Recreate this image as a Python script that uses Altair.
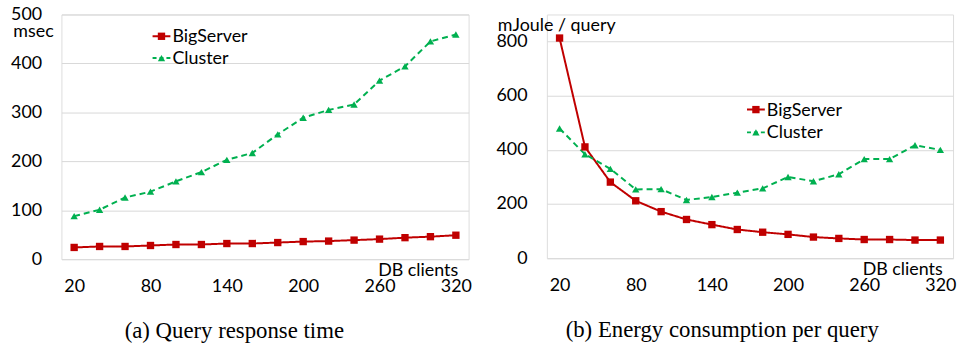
import altair as alt
import pandas as pd

clients = [20, 40, 60, 80, 100, 120, 140, 160, 180, 200, 220, 240, 260, 280, 300, 320]
series = ["BigServer", "Cluster"]
colors = ["#C00000", "#00B050"]
markers = ["square", "triangle-up"]
dashes = [[1, 0], [6, 4]]
legend_dashes = [[1, 0], [4, 3]]

rt_bigserver = [24, 26, 26, 28, 30, 30, 32, 32, 34, 36, 37, 39, 41, 44, 46, 49]
rt_cluster = [88, 101, 126, 138, 159, 178, 203, 217, 255, 289, 305, 316, 365, 394, 445, 459]

en_bigserver = [813, 411, 281, 212, 172, 143, 124, 106, 96, 88, 78, 73, 69, 69, 67, 67]
en_cluster = [479, 384, 330, 254, 255, 215, 226, 242, 258, 300, 284, 310, 366, 366, 417, 400]

x_ticks = [20, 80, 140, 200, 260, 320]
rt_ticks = [0, 100, 200, 300, 400, 500]
en_ticks = [0, 200, 400, 600, 800]

FONT = "Lato"
CAP_FONT = "Liberation Serif, Times New Roman, serif"


def make_df(big, clu):
    rows = []
    for c, v in zip(clients, big):
        rows.append({"clients": c, "value": v, "series": "BigServer"})
    for c, v in zip(clients, clu):
        rows.append({"clients": c, "value": v, "series": "Cluster"})
    return pd.DataFrame(rows)


legend_df = pd.DataFrame({"series": series})


def legend_layers(lx, ly, row_gap):
    layers = []
    for i, s in enumerate(series):
        base = alt.Chart(legend_df).transform_filter(alt.datum.series == s)
        yy = ly + i * row_gap
        layers.append(base.mark_rule(color=colors[i], strokeWidth=2,
                                     strokeDash=legend_dashes[i]).encode(
            x=alt.value(lx), x2=alt.value(lx + 18), y=alt.value(yy)))
        layers.append(base.mark_point(shape=markers[i], filled=True, opacity=1,
                                      color=colors[i], size=55).encode(
            x=alt.value(lx + 9), y=alt.value(yy)))
        layers.append(base.mark_text(align="left", baseline="middle", font=FONT,
                                     fontSize=18, color="#000000").encode(
            text="series:N", x=alt.value(lx + 20), y=alt.value(yy + 1)))
    return layers


def panel(df, ymax, yticks, ytitle, ytx, yty, w, h, lx, ly, row_gap, caption, cap_dx):
    x = alt.X(
        "clients:O",
        scale=alt.Scale(type="point", padding=0.5),
        axis=alt.Axis(
            values=x_ticks, title="DB clients", labelAngle=0,
            labelFont=FONT, labelFontSize=18, labelColor="#000000",
            labelPadding=19, ticks=False, tickSize=0, domain=False, grid=False,
            titleFont=FONT, titleFontSize=18, titleFontWeight="normal", titleColor="#000000",
            titleAlign="right", titleAnchor="end", titleBaseline="top",
            titleX=w - 11, titleY=2,
        ),
    )
    y = alt.Y(
        "value:Q",
        scale=alt.Scale(domain=[0, ymax], nice=False),
        axis=alt.Axis(
            values=yticks, title=ytitle, titleAngle=0,
            labelFont=FONT, labelFontSize=18, labelColor="#000000",
            labelPadding=20, ticks=False, tickSize=0, domain=False,
            grid=True, gridColor="#D9D9D9", gridWidth=1,
            titleFont=FONT, titleFontSize=18, titleFontWeight="normal", titleColor="#000000",
            titleAlign="left", titleBaseline="alphabetic",
            titleX=ytx, titleY=yty,
        ),
    )
    color = alt.Color("series:N", scale=alt.Scale(domain=series, range=colors), legend=None)
    lines = alt.Chart(df).mark_line(strokeWidth=2).encode(
        x=x, y=y, color=color,
        strokeDash=alt.StrokeDash("series:N", scale=alt.Scale(domain=series, range=dashes),
                                  legend=None),
    )
    pts = alt.Chart(df).mark_point(filled=True, opacity=1, size=55).encode(
        x=x, y=y, color=color,
        shape=alt.Shape("series:N", scale=alt.Scale(domain=series, range=markers),
                        legend=None),
    )
    return alt.layer(lines, pts, *legend_layers(lx, ly, row_gap)).properties(
        width=w, height=h,
        title=alt.TitleParams(caption, orient="bottom", font=CAP_FONT, fontSize=23,
                              fontWeight="normal", color="#000000", offset=25,
                              anchor="middle", baseline="top", dx=cap_dx),
    )


left = panel(make_df(rt_bigserver, rt_cluster), 500, rt_ticks, "msec", -49, 22,
             411, 247, 92, 22, 22, "(a) Query response time", -31)
right = panel(make_df(en_bigserver, en_cluster), 900, en_ticks, "mJoule / query", -50, 16,
              410, 246, 202, 96, 23, "(b) Energy consumption per query", -28)

chart = alt.hconcat(left, right, spacing=23).resolve_scale(
    color="independent", strokeDash="independent", shape="independent"
).properties(
    padding={"left": 10, "top": 3, "right": 3, "bottom": 0}
).configure_view(stroke=None).configure(background="white")

chart.save("out.html", embed_options={"renderer": "svg", "actions": False})
